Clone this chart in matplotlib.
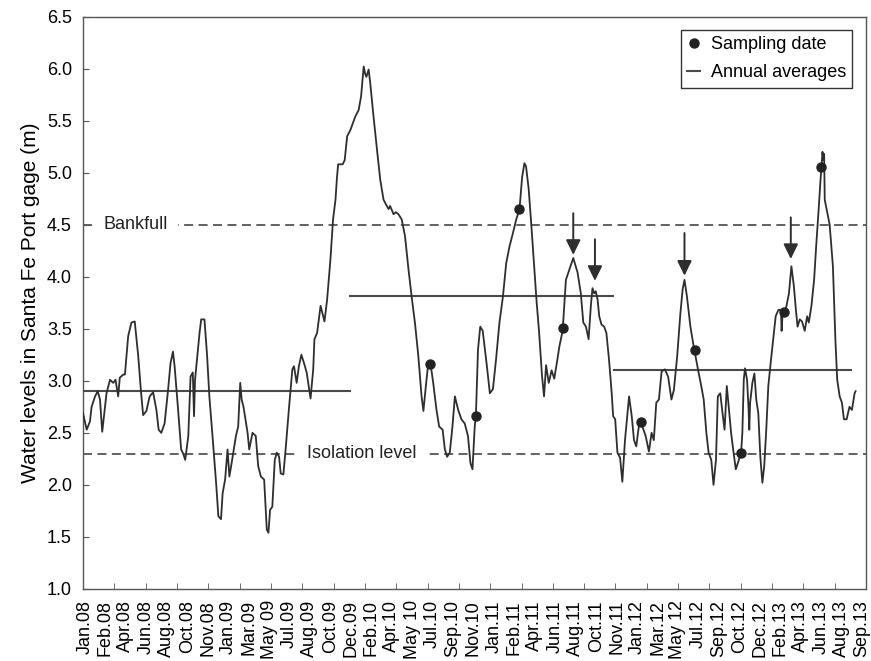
import numpy as np
import matplotlib.pyplot as plt
from matplotlib.lines import Line2D

plt.rcParams['font.family'] = ['Liberation Sans', 'DejaVu Sans']

# category labels along the x axis (evenly spaced)
month_labels = ['Jan.08', 'Feb.08', 'Apr.08', 'Jun.08', 'Aug.08', 'Oct.08', 'Nov.08',
                'Jan.09', 'Mar.09', 'May 09', 'Jul.09', 'Aug.09', 'Oct.09', 'Dec.09',
                'Feb.10', 'Apr.10', 'May 10', 'Jul.10', 'Sep.10', 'Nov.10',
                'Jan.11', 'Feb.11', 'Apr.11', 'Jun.11', 'Aug.11', 'Oct.11', 'Nov.11',
                'Jan.12', 'Mar.12', 'May 12', 'Jul.12', 'Sep.12', 'Oct.12', 'Dec.12',
                'Feb.13', 'Apr.13', 'Jun.13', 'Aug.13', 'Sep.13']

# gage record: position on the label axis, water level (m)
level_x = [-0.10, 0.08, 0.24, 0.32, 0.49, 0.62, 0.73, 0.84, 0.94, 1.05, 1.22, 1.38, 1.49, 1.62,
           1.70, 1.87, 1.95, 2.11, 2.27, 2.43, 2.60, 2.73, 2.84, 3.00, 3.16, 3.33, 3.49, 3.60,
           3.73, 3.89, 4.06, 4.18, 4.30, 4.38, 4.54, 4.70, 4.80, 4.90, 5.05, 5.16, 5.27, 5.33,
           5.38, 5.60, 5.68, 5.84, 5.97, 6.08, 6.25, 6.41, 6.52, 6.65, 6.73, 6.85, 6.97, 7.06,
           7.17, 7.38, 7.49, 7.59, 7.66, 7.75, 7.95, 8.03, 8.19, 8.35, 8.47, 8.60, 8.76, 8.89,
           8.97, 9.05, 9.16, 9.28, 9.38, 9.49, 9.57, 9.70, 9.81, 9.98, 10.14, 10.22, 10.35,
           10.46, 10.58, 10.71, 10.84, 11.03, 11.16, 11.22, 11.35, 11.52, 11.65, 11.71, 11.84,
           12.00, 12.13, 12.25, 12.32, 12.38, 12.60, 12.70, 12.82, 12.98, 13.22, 13.38, 13.50,
           13.63, 13.70, 13.76, 13.87, 13.95, 14.11, 14.28, 14.44, 14.60, 14.76, 14.85, 14.92,
           15.09, 15.20, 15.33, 15.49, 15.65, 15.82, 15.98, 16.14, 16.30, 16.46, 16.55, 16.67,
           16.79, 16.90, 17.03, 17.19, 17.32, 17.49, 17.60, 17.71, 17.84, 17.97, 18.09, 18.25,
           18.41, 18.57, 18.73, 18.85, 18.95, 19.06, 19.12, 19.22, 19.33, 19.45, 19.65, 19.80,
           19.95, 20.10, 20.27, 20.44, 20.60, 20.76, 20.93, 21.09, 21.25, 21.38, 21.49, 21.57,
           21.70, 21.82, 21.98, 22.09, 22.20, 22.35, 22.45, 22.55, 22.68, 22.82, 22.95, 23.10,
           23.20, 23.36, 23.52, 23.69, 23.88, 24.09, 24.25, 24.37, 24.50, 24.63, 24.74, 24.82,
           24.90, 24.98, 25.07, 25.15, 25.26, 25.39, 25.50, 25.63, 25.76, 25.83, 25.93, 26.04,
           26.17, 26.28, 26.41, 26.61, 26.74, 26.85, 26.96, 27.10, 27.26, 27.42, 27.58, 27.71,
           27.82, 27.94, 28.07, 28.20, 28.36, 28.52, 28.68, 28.80, 28.96, 29.12, 29.23, 29.32,
           29.44, 29.61, 29.77, 29.98, 30.14, 30.26, 30.39, 30.50, 30.63, 30.74, 30.86, 30.95,
           31.07, 31.18, 31.28, 31.39, 31.50, 31.60, 31.72, 31.83, 31.93, 32.09, 32.15, 32.22,
           32.28, 32.38, 32.45, 32.49, 32.53, 32.64, 32.74, 32.83, 32.93, 33.03, 33.13, 33.22,
           33.32, 33.42, 33.55, 33.66, 33.78, 33.91, 34.04, 34.07, 34.12, 34.20, 34.31, 34.43,
           34.55, 34.67, 34.77, 34.85, 34.96, 35.07, 35.20, 35.32, 35.40, 35.53, 35.66, 35.77,
           35.88, 35.97, 36.02, 36.07, 36.11, 36.15, 36.18, 36.30, 36.42, 36.58, 36.70, 36.79,
           36.91, 37.02, 37.12, 37.25, 37.39, 37.51, 37.64, 37.69]
level_y = [2.69, 2.53, 2.61, 2.75, 2.85, 2.90, 2.82, 2.51, 2.69, 2.88, 3.01, 2.98, 3.01, 2.85,
           3.03, 3.06, 3.06, 3.43, 3.56, 3.57, 3.24, 2.91, 2.67, 2.71, 2.85, 2.89, 2.72, 2.53,
           2.50, 2.59, 2.91, 3.17, 3.28, 3.14, 2.75, 2.34, 2.30, 2.24, 2.47, 3.04, 3.08, 2.66,
           3.01, 3.46, 3.59, 3.59, 3.24, 2.85, 2.43, 2.02, 1.70, 1.67, 1.92, 2.05, 2.34, 2.08,
           2.21, 2.47, 2.56, 2.98, 2.82, 2.75, 2.50, 2.34, 2.50, 2.47, 2.18, 2.08, 2.05, 1.57,
           1.54, 1.76, 1.79, 2.24, 2.31, 2.27, 2.11, 2.10, 2.34, 2.75, 3.11, 3.14, 2.98,
           3.14, 3.25, 3.17, 3.08, 2.83, 3.11, 3.40, 3.46, 3.72, 3.62, 3.57, 3.78,
           4.16, 4.55, 4.74, 4.95, 5.08, 5.08, 5.12, 5.35, 5.41, 5.54, 5.60, 5.73,
           6.02, 5.95, 5.92, 5.99, 5.86, 5.54, 5.22, 4.93, 4.74, 4.68, 4.65, 4.68,
           4.60, 4.62, 4.60, 4.55, 4.39, 4.07, 3.80, 3.55, 3.24, 2.85, 2.71, 2.95,
           3.17, 3.16, 2.98, 2.72, 2.56, 2.53, 2.34, 2.27, 2.31, 2.56, 2.85, 2.72,
           2.63, 2.59, 2.47, 2.21, 2.15, 2.56, 2.68, 3.30, 3.52, 3.48, 3.15, 2.88,
           2.92, 3.20, 3.56, 3.81, 4.13, 4.29, 4.42, 4.55, 4.65, 4.96, 5.09, 5.06,
           4.84, 4.52, 4.07, 3.75, 3.49, 3.05, 2.85, 3.15, 2.98, 3.10, 3.02, 3.20,
           3.33, 3.48, 3.97, 4.07, 4.18, 4.04, 3.84, 3.56, 3.52, 3.40, 3.72, 3.89,
           3.84, 3.86, 3.78, 3.62, 3.54, 3.52, 3.46, 3.20, 2.88, 2.66, 2.63, 2.31,
           2.26, 2.03, 2.43, 2.85, 2.66, 2.43, 2.37, 2.58, 2.56, 2.47, 2.32, 2.50,
           2.43, 2.79, 2.82, 3.09, 3.11, 3.04, 2.82, 2.91, 3.23, 3.65, 3.88, 3.97,
           3.81, 3.52, 3.33, 3.11, 2.95, 2.82, 2.50, 2.31, 2.24, 2.00, 2.24, 2.85,
           2.88, 2.69, 2.53, 2.95, 2.72, 2.50, 2.31, 2.15, 2.21, 2.31, 2.50, 3.01,
           3.12, 3.01, 2.75, 2.53, 2.79, 2.98, 3.07, 2.82, 2.69, 2.27, 2.02, 2.18,
           2.53, 2.95, 3.20, 3.40, 3.62, 3.68, 3.68, 3.48, 3.65, 3.66, 3.72, 3.84,
           4.10, 3.91, 3.68, 3.52, 3.59, 3.57, 3.48, 3.62, 3.56, 3.72, 3.97, 4.32,
           4.64, 4.92, 5.05, 5.20, 5.12, 5.18, 4.74, 4.62, 4.50, 4.10, 3.40, 3.01,
           2.85, 2.79, 2.63, 2.63, 2.75, 2.72, 2.88, 2.90]

# sampling campaigns
sample_x = [16.87, 19.11, 21.25, 23.39, 27.17, 29.85, 32.09, 34.20, 36.02]
sample_y = [3.16, 2.66, 4.65, 3.51, 2.60, 3.30, 2.31, 3.66, 5.05]

# annual averages: start, end, level
avg_start = [-0.10, 12.95, 25.87]
avg_end = [12.95, 25.82, 37.47]
avg_level = [2.90, 3.81, 3.10]

# peaks marked with arrows: x, arrow tip, arrow tail
arrow_x = [23.88, 24.94, 29.32, 34.52]
arrow_tip = [4.21, 3.96, 4.01, 4.17]
arrow_tail = [4.61, 4.36, 4.42, 4.57]

bankfull = 4.5
isolation = 2.3

fig = plt.figure(figsize=(8.71, 6.61), dpi=100)
ax = fig.add_axes([0.0953, 0.109, 0.8990, 0.866])

dash_kw = dict(color='#555555', lw=1.3, dashes=(5, 3), zorder=1)
ax.axhline(bankfull, **dash_kw)
ax.axhline(isolation, **dash_kw)
box = dict(facecolor='white', edgecolor='none', pad=7)
ax.text(0.9, bankfull, 'Bankfull', fontsize=13, va='center', ha='left', color='#222222',
        bbox=box, zorder=2)
ax.text(10.85, isolation, 'Isolation level', fontsize=13, va='center', ha='left',
        color='#222222', bbox=box, zorder=2)

for x0, x1, lev in zip(avg_start, avg_end, avg_level):
    ax.plot([x0, x1], [lev, lev], color='#4a4a4a', lw=1.5, zorder=3)

ax.plot(level_x, level_y, color='#2e2e2e', lw=1.3, zorder=4)
ax.plot(sample_x, sample_y, 'o', color='#222222', ms=6.5, zorder=5)

for x, tip, tail in zip(arrow_x, arrow_tip, arrow_tail):
    ax.annotate('', xy=(x, tip), xytext=(x, tail),
                arrowprops=dict(arrowstyle='-|>,head_length=0.45,head_width=0.22',
                                mutation_scale=20, color='#2e2e2e', lw=1.4,
                                shrinkA=0, shrinkB=0), zorder=5)

ax.set_xlim(-0.1, 38.2)
ax.set_ylim(1.0, 6.5)
ax.set_yticks(np.arange(1.0, 6.51, 0.5))
ax.set_yticklabels(['%.1f' % v for v in np.arange(1.0, 6.51, 0.5)], fontsize=13)
ax.set_xticks(range(len(month_labels)))
ax.set_xticklabels(month_labels, rotation=90, fontsize=13)
ax.set_xticks(np.linspace(-0.1, 38.2, 26), minor=True)
ax.tick_params(axis='x', which='major', length=0, pad=8)
ax.tick_params(axis='x', which='minor', direction='in', length=4, color='#555555')
ax.tick_params(axis='y', direction='in', length=4, color='#555555', pad=8)
ax.set_ylabel('Water levels in Santa Fe Port gage (m)', fontsize=15, labelpad=5)

for s in ax.spines.values():
    s.set_color('#555555')
    s.set_linewidth(1.0)

handles = [Line2D([], [], marker='o', ls='none', color='#222222', ms=6.5),
           Line2D([], [], color='#4a4a4a', lw=1.5)]
leg = ax.legend(handles, ['Sampling date', 'Annual averages'], loc='upper right',
                fontsize=13, fancybox=False, framealpha=1, edgecolor='#333333',
                handlelength=0.7, handletextpad=0.6, borderaxespad=0.75,
                borderpad=0.35, labelspacing=0.6)
leg.get_frame().set_linewidth(1.0)

fig.savefig('out.png', dpi=100)
